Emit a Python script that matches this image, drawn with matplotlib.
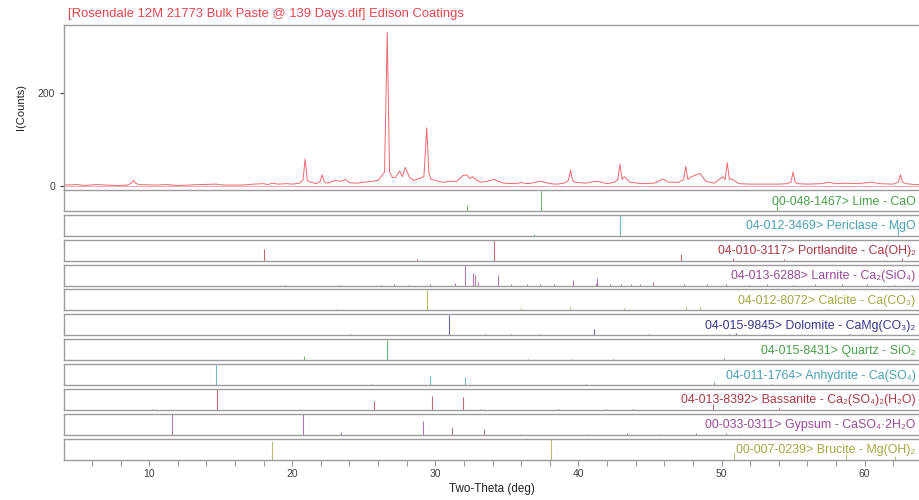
import matplotlib.pyplot as plt
from matplotlib.ticker import MultipleLocator

plt.rcParams["font.family"] = ["Liberation Sans", "DejaVu Sans"]

trace_x = [4.0, 5.0, 5.5, 6.3, 7.0, 7.8, 8.5, 8.75, 8.9, 9.05, 9.3, 10.5, 11.2, 12.0, 12.7, 13.5,
           14.7, 15.2, 16.5, 17.3, 18.0, 18.3, 18.6, 19.0, 19.6, 20.0, 20.5, 20.75, 20.9, 21.05,
           21.3, 21.7, 21.95, 22.1, 22.25, 22.5, 23.0, 23.4, 23.7, 24.0, 24.5, 25.0,
           25.6, 26.0, 26.45, 26.64, 26.8, 27.0, 27.2, 27.5, 27.7, 27.9, 28.2, 28.5, 28.7, 29.2, 29.4,
           29.55, 29.7, 30.0, 30.5, 31.0, 31.5, 31.9, 32.2, 32.4, 32.6, 32.9, 33.2, 33.6, 34.1, 34.4,
           34.8, 35.5, 36.0, 36.5, 37.4, 38.0, 38.5, 39.0, 39.3, 39.45, 39.6, 39.8, 40.5, 41.2, 41.6, 42.0,
           42.5, 42.75, 42.9, 43.05, 43.2, 43.6, 44.5, 45.3, 45.9, 46.3, 47.0, 47.35, 47.5, 47.65, 47.9,
           48.5, 48.9, 49.5, 50.1, 50.25, 50.4, 50.55, 50.7, 51.2, 52.0, 53.0, 54.0, 54.6, 54.85, 55.0,
           55.15, 55.3, 56.0, 57.0, 57.5, 58.0, 58.7, 59.5, 60.5, 61.0, 62.0, 62.35, 62.5, 62.65,
           62.9, 63.5, 64.0]
trace_y = [2, 3, 1, 3, 2, 1, 2, 6, 12, 6, 3, 2, 3, 1, 2, 3,
           4, 2, 2, 4, 5, 3, 6, 4, 5, 4, 6, 12, 58, 12,
           8, 5, 10, 24, 8, 6, 12, 10, 14, 7, 6, 8,
           10, 12, 30, 330, 30, 18, 18, 32, 20, 40, 18, 12, 14, 20, 125,
           28, 14, 12, 8, 10, 10, 22, 24, 16, 20, 12, 8, 10, 14, 10,
           6, 5, 7, 5, 10, 5, 4, 6, 12, 34, 12, 8, 6, 10, 8, 5,
           8, 14, 47, 14, 20, 8, 5, 6, 15, 8, 8, 14, 42, 14, 20,
           27, 10, 6, 20, 14, 50, 14, 15, 5, 4, 4, 4, 5, 8, 30,
           8, 5, 4, 5, 8, 5, 6, 5, 8, 5, 4, 8, 24, 8,
           5, 3, 3]

# reference cards: label, colour, stick positions and relative heights
phase_labels = [
    "00-048-1467> Lime - CaO",
    "04-012-3469> Periclase - MgO",
    "04-010-3117> Portlandite - Ca(OH)₂",
    "04-013-6288> Larnite - Ca₂(SiO₄)",
    "04-012-8072> Calcite - Ca(CO₃)",
    "04-015-9845> Dolomite - CaMg(CO₃)₂",
    "04-015-8431> Quartz - SiO₂",
    "04-011-1764> Anhydrite - Ca(SO₄)",
    "04-013-8392> Bassanite - Ca₂(SO₄)₂(H₂O)",
    "00-033-0311> Gypsum - CaSO₄·2H₂O",
    "00-007-0239> Brucite - Mg(OH)₂",
]
phase_colors = ["#4a9f4a", "#4a9fb3", "#a83a44", "#9a4a9a", "#a6a645", "#36368a",
                "#4a9f4a", "#4a9fb3", "#a83a44", "#9a4a9a", "#a6a645"]
lime_pos = [32.2, 37.4, 53.9, 64.2]
lime_int = [30, 100, 45, 20]
periclase_pos = [36.9, 42.9, 62.3]
periclase_int = [8, 100, 45]
portlandite_pos = [18.05, 28.7, 34.1, 47.2, 50.8, 54.4, 62.6]
portlandite_int = [55, 8, 100, 35, 15, 10, 12]
larnite_pos = [19.5, 23.3, 26.2, 27.1, 28.1, 29.6, 31.4, 32.05, 32.6, 32.75, 33.0, 34.4,
               35.3, 36.4, 37.3, 38.3, 39.6, 41.2, 41.3, 42.2, 43.0, 43.7, 44.3, 45.2,
               47.4, 49.0, 50.3, 51.9, 53.2, 55.0, 56.5, 58.4, 60.2, 62.1]
larnite_int = [5, 4, 5, 6, 5, 6, 12, 100, 60, 50, 18, 50,
               8, 8, 8, 8, 25, 12, 35, 10, 8, 10, 10, 16,
               6, 6, 6, 5, 6, 5, 8, 6, 6, 5]
calcite_pos = [23.05, 29.4, 35.97, 39.4, 43.15, 47.5, 48.5, 57.4, 60.7]
calcite_int = [8, 100, 12, 16, 12, 16, 16, 8, 5]
dolomite_pos = [24.05, 30.95, 33.5, 35.3, 37.3, 41.1, 44.9, 50.5, 51.0, 58.9, 59.8]
dolomite_int = [6, 100, 5, 5, 5, 30, 8, 8, 10, 5, 5]
quartz_pos = [20.85, 26.65, 36.5, 39.45, 42.45, 50.15, 54.9, 59.95]
quartz_int = [22, 100, 6, 6, 5, 10, 5, 7]
anhydrite_pos = [14.7, 25.6, 29.65, 32.05, 40.5, 49.5, 53.5]
anhydrite_int = [100, 6, 45, 40, 5, 15, 5]
bassanite_pos = [10.2, 14.75, 25.7, 29.8, 31.95, 33.1, 38.6, 42.0, 43.8, 49.4, 54.0]
bassanite_int = [4, 100, 45, 70, 65, 6, 5, 5, 6, 30, 8]
gypsum_pos = [11.63, 20.75, 23.4, 29.15, 31.15, 33.4, 36.0, 40.7, 43.4, 45.6, 48.2, 50.3, 51.3]
gypsum_int = [100, 100, 12, 65, 40, 30, 5, 5, 8, 5, 6, 6, 5]
brucite_pos = [18.6, 38.05, 50.9, 58.7, 62.1]
brucite_int = [90, 100, 35, 25, 15]

phase_pos = [lime_pos, periclase_pos, portlandite_pos, larnite_pos, calcite_pos, dolomite_pos,
             quartz_pos, anhydrite_pos, bassanite_pos, gypsum_pos, brucite_pos]
phase_int = [lime_int, periclase_int, portlandite_int, larnite_int, calcite_int, dolomite_int,
             quartz_int, anhydrite_int, bassanite_int, gypsum_int, brucite_int]

W, H = 919, 500
X0, X1 = 64, 919
XLIM = (4.05, 63.8)
FRAME = "#9c9c9c"
TEXT = "#404040"


def px_axes(fig, x, top, w, h):
    # pixel box (top-left origin) -> figure fraction
    return fig.add_axes([x / W, 1 - (top + h) / H, w / W, h / H])


def main() -> None:
    fig = plt.figure(figsize=(W / 100, H / 100), dpi=100)
    fig.patch.set_facecolor("white")

    fig.text(68 / W, 1 - 14 / H, "[Rosendale 12M 21773 Bulk Paste @ 139 Days.dif] Edison Coatings",
             fontsize=9.4, color="#e5484f", va="center", ha="left")

    # diffraction pattern
    ax = px_axes(fig, X0, 25, X1 - X0, 164)
    ax.axhline(0, color="#e8a0a0", lw=0.6)
    ax.plot(trace_x, trace_y, color="#f06870", lw=0.7)
    ax.set_xlim(*XLIM)
    ax.set_ylim(-6.5, 346)
    ax.set_yticks([0, 200])
    ax.set_xticks([])
    ax.tick_params(axis="y", labelsize=7.5, colors=TEXT, length=3, width=0.8)
    for s in ["right", "bottom"]:
        ax.spines[s].set_visible(False)
    for s in ["top", "left"]:
        ax.spines[s].set_color(FRAME)
        ax.spines[s].set_linewidth(1)
    ax.set_ylabel("I(Counts)", fontsize=8, color="#222222", labelpad=8)

    # stick panels
    pitch = 24.85
    for i, (label, color, pos, inten) in enumerate(zip(phase_labels, phase_colors, phase_pos, phase_int)):
        top = 190 + i * pitch
        pax = px_axes(fig, X0, top, X1 - X0, 21)
        pax.vlines(pos, 0, [v / 100 * 0.97 for v in inten], color=color, lw=0.8, alpha=0.75)
        pax.set_xlim(*XLIM)
        pax.set_ylim(0, 1)
        pax.set_yticks([])
        for s in pax.spines.values():
            s.set_color(FRAME)
            s.set_linewidth(1)
        pax.spines["right"].set_visible(False)
        pax.text(0.996, 0.45, label, transform=pax.transAxes, ha="right", va="center",
                 fontsize=8.9, color=color)
        if i < len(phase_labels) - 1:
            pax.set_xticks([])
        else:
            pax.xaxis.set_major_locator(MultipleLocator(10))
            pax.xaxis.set_minor_locator(MultipleLocator(2))
            pax.tick_params(axis="x", which="both", length=4, width=0.8, colors=FRAME,
                            labelcolor=TEXT, labelsize=7.5, pad=3)
            pax.set_xlabel("Two-Theta (deg)", fontsize=8.4, color="#222222", labelpad=3)

    fig.savefig("out.png", dpi=100, facecolor=fig.get_facecolor())
    plt.close(fig)


if __name__ == "__main__":
    main()
